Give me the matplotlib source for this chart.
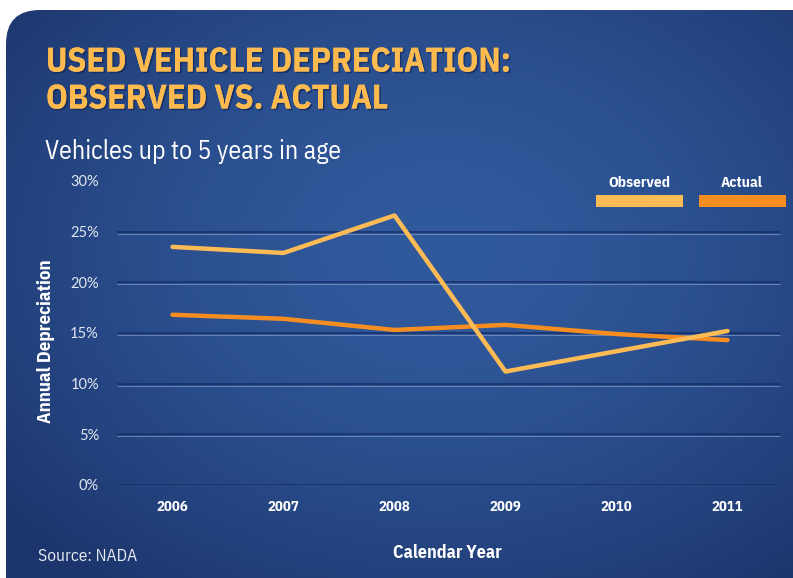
import numpy as np
import matplotlib
matplotlib.use('Agg')
import matplotlib.pyplot as plt
import matplotlib.transforms as mtransforms
import matplotlib.patheffects as pe
from matplotlib.patches import FancyBboxPatch, Rectangle

# data
years = ['2006', '2007', '2008', '2009', '2010', '2011']
observed = [23.5, 22.9, 26.6, 11.2, 13.2, 15.2]
actual = [16.8, 16.4, 15.3, 15.8, 14.9, 14.3]
y_ticks = [0, 5, 10, 15, 20, 25, 30]
series_names = ['Observed', 'Actual']
series_colors = ['#fdbb55', '#f68d21']

narrow = ['IBM Plex Sans Condensed', 'DejaVu Sans']

fig = plt.figure(figsize=(7.93, 5.78), dpi=100)
fig.patch.set_facecolor('white')

# background card with a radial blue gradient
bg = fig.add_axes([0, 0, 1, 1])
bg.set_xlim(0, 793)
bg.set_ylim(578, 0)
bg.axis('off')
card = FancyBboxPatch((6, 10), 830, 620, boxstyle='round,pad=0,rounding_size=34',
                      fc='none', ec='none')
bg.add_patch(card)
yy, xx = np.mgrid[0:578, 0:793]
r = np.sqrt(((xx - 440) / 560.0) ** 2 + ((yy - 250) / 420.0) ** 2)
r = np.clip(r, 0, 1)
c_in = np.array([0x31, 0x5a, 0x9d]) / 255.0
c_out = np.array([0x1c, 0x35, 0x6c]) / 255.0
img = c_in + (c_out - c_in) * (r[..., None] ** 1.6)
im = bg.imshow(img, extent=(0, 793, 578, 0), zorder=0, interpolation='bilinear')
im.set_clip_path(card)

# titles with a soft dark shadow
shadow = [pe.withSimplePatchShadow(offset=(1.2, -1.2), shadow_rgbFace='#0f2250', alpha=0.6),
          pe.Normal()]
fig.text(46 / 793, 1 - 81 / 578, 'USED VEHICLE DEPRECIATION:\nOBSERVED VS. ACTUAL',
         va='center', ha='left', family=narrow, weight='bold', color='#fdbb4f',
         fontsize=24.5, linespacing=1.2, path_effects=shadow)
fig.text(45 / 793, 1 - 151 / 578, 'Vehicles up to 5 years in age', va='center', ha='left',
         family=narrow, color='white', fontsize=18.5)

# main plot
ax = fig.add_axes([117 / 793, 93 / 578, 666 / 793, 304 / 578])
ax.patch.set_alpha(0)
for s in ax.spines.values():
    s.set_visible(False)
x = np.arange(len(years))
ax.set_xlim(-0.5, len(years) - 0.5)
ax.set_ylim(0, 30)

# embossed gridlines: dark line with a light line just below
light_off = mtransforms.ScaledTranslation(0, -1.4 / 72, fig.dpi_scale_trans)
for t in y_ticks[:-1]:
    ax.plot([0, 0.995], [t, t], color='#17306a', lw=1.1, transform=ax.get_yaxis_transform(),
            zorder=1, solid_capstyle='butt')
    ax.plot([0, 0.995], [t, t], color='#8098c6', lw=0.7, alpha=0.75,
            transform=ax.get_yaxis_transform() + light_off, zorder=1, solid_capstyle='butt')

ax.plot(x, actual, color=series_colors[1], lw=3.2, solid_capstyle='round', zorder=3)
ax.plot(x, observed, color=series_colors[0], lw=3.2, solid_capstyle='round', zorder=4)

ax.set_yticks(y_ticks)
ax.set_yticklabels([f'{t}%' for t in y_ticks], color='#e2e7f1', fontsize=10.5, family='Lato')
ax.set_xticks(x)
ax.set_xticklabels(years, color='white', fontsize=10.5, family=narrow, weight='bold')
ax.tick_params(axis='y', length=0, pad=13)
ax.tick_params(axis='x', length=0, pad=11)

ax.set_ylabel('Annual Depreciation', family=narrow, weight='bold', color='white', fontsize=13.5)
ax.yaxis.set_label_coords(-62 / 666, 0.474)

fig.text(447 / 793, 1 - 553 / 578, 'Calendar Year', ha='center', va='center',
         family=narrow, weight='bold', color='white', fontsize=13)
fig.text(38 / 793, 1 - 556 / 578, 'Source: NADA', ha='left', va='center',
         family=narrow, color='#e6eaf2', fontsize=12.5)

# legend drawn as swatches under the names
leg_left = [596, 699]
for name, col, lx in zip(series_names, series_colors, leg_left):
    fig.text((lx + 43) / 793, 1 - 183 / 578, name, ha='center', va='center',
             family=narrow, weight='bold', color='white', fontsize=11)
    fig.patches.append(Rectangle((lx / 793, 1 - 207 / 578), 87 / 793, 12 / 578,
                                 transform=fig.transFigure, fc=col, ec='none'))

fig.savefig('out.png', dpi=100)
